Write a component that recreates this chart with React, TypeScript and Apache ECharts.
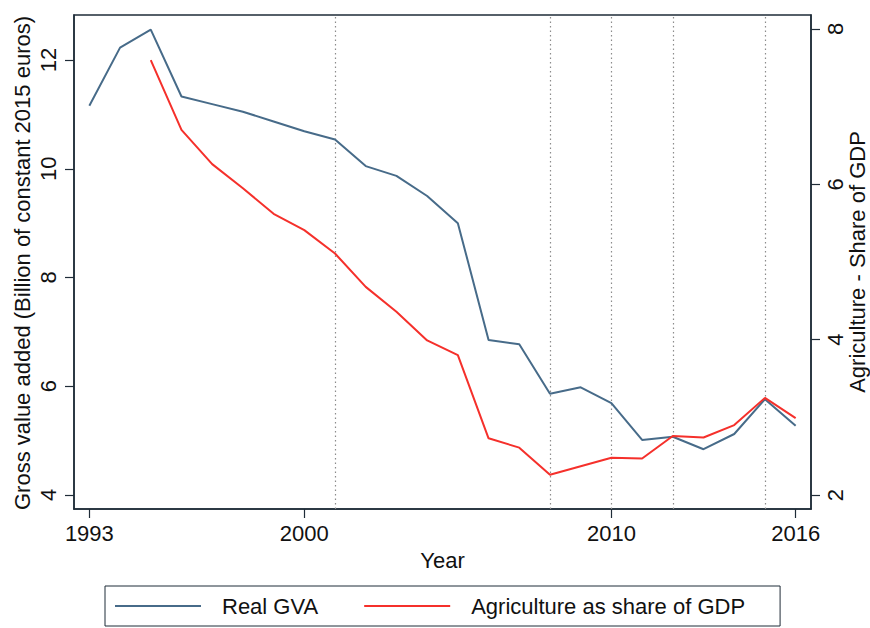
import React, { useEffect, useRef } from "react";
import * as echarts from "echarts";

const years = [1993, 1994, 1995, 1996, 1997, 1998, 1999, 2000, 2001, 2002, 2003, 2004, 2005, 2006, 2007, 2008, 2009, 2010, 2011, 2012, 2013, 2014, 2015, 2016];
const realGVA = [11.16, 12.23, 12.56, 11.33, 11.19, 11.05, 10.87, 10.69, 10.54, 10.05, 9.87, 9.5, 9.0, 6.85, 6.77, 5.86, 5.98, 5.69, 5.01, 5.07, 4.84, 5.12, 5.76, 5.27];
const agriYears = [1995, 1996, 1997, 1998, 1999, 2000, 2001, 2002, 2003, 2004, 2005, 2006, 2007, 2008, 2009, 2010, 2011, 2012, 2013, 2014, 2015, 2016];
const agriShare = [7.6, 6.7, 6.26, 5.95, 5.62, 5.41, 5.11, 4.68, 4.36, 3.99, 3.8, 2.73, 2.61, 2.26, 2.37, 2.48, 2.47, 2.76, 2.74, 2.9, 3.25, 2.99];
const xTicks = [1993, 2000, 2010, 2016];
const leftTicks = [4, 6, 8, 10, 12];
const rightTicks = [2, 4, 6, 8];
const eventYears = [2001, 2008, 2010, 2012, 2015];
const leftTitle = "Gross value added (Billion of constant 2015 euros)";
const rightTitle = "Agriculture - Share of GDP";

const FONT = "Liberation Sans, Arial, Helvetica, sans-serif";
const AXIS = "#1f2c38";
const TEXT = "#111111";
const BLUE = "#476b89";
const RED = "#f5302b";

export default function App() {
  const ref = useRef<HTMLDivElement>(null);
  useEffect(() => {
    if (!ref.current) return;
    const chart = echarts.init(ref.current, null, { renderer: "svg" });
    const axisCommon = {
      axisLine: { show: true, lineStyle: { color: AXIS, width: 1.5 } },
      axisTick: { show: true, length: 9, lineStyle: { color: AXIS, width: 1.2 } },
      splitLine: { show: false },
      nameTextStyle: { fontFamily: FONT, fontSize: 22, color: TEXT },
    };
    const titleStyle = {
      fontFamily: FONT,
      fontSize: 22,
      fill: TEXT,
      textAlign: "center",
      textVerticalAlign: "middle",
    };
    chart.setOption({
      animation: false,
      backgroundColor: "#ffffff",
      grid: {
        left: 74,
        top: 15,
        right: 59,
        bottom: 119,
        show: true,
        borderColor: AXIS,
        borderWidth: 1.5,
        containLabel: false,
        outerBoundsMode: "none",
      },
      graphic: [
        { type: "text", x: 22, y: 263, rotation: Math.PI / 2, style: { ...titleStyle, text: leftTitle } },
        { type: "text", x: 857, y: 262, rotation: Math.PI / 2, style: { ...titleStyle, text: rightTitle } },
      ],
      legend: {
        left: 105,
        top: 586,
        padding: [9, 35, 9, 10],
        borderColor: AXIS,
        borderWidth: 1,
        itemWidth: 86,
        itemHeight: 2,
        itemGap: 46,
        icon: "rect",
        textStyle: { fontFamily: FONT, fontSize: 22, color: TEXT, padding: [0, 0, 0, 16] },
        data: ["Real GVA", "Agriculture as share of GDP"],
      },
      xAxis: {
        type: "value",
        min: 1992.5,
        max: 2016.5,
        name: "Year",
        nameLocation: "middle",
        nameGap: 40,
        ...axisCommon,
        axisTick: { ...axisCommon.axisTick, customValues: xTicks },
        axisLabel: {
          customValues: xTicks,
          margin: 13,
          fontFamily: FONT,
          fontSize: 22,
          color: TEXT,
          formatter: (v: number) => String(v),
        },
      },
      yAxis: [
        {
          type: "value",
          position: "left",
          min: 3.74,
          max: 12.83,
          ...axisCommon,
          axisTick: { ...axisCommon.axisTick, customValues: leftTicks },
          axisLabel: {
            customValues: leftTicks,
            rotate: 90,
            margin: 15,
            fontFamily: FONT,
            fontSize: 22,
            color: TEXT,
          },
        },
        {
          type: "value",
          position: "right",
          min: 1.82,
          max: 8.18,
          ...axisCommon,
          axisTick: { ...axisCommon.axisTick, customValues: rightTicks },
          axisLabel: {
            customValues: rightTicks,
            rotate: 90,
            margin: 13,
            fontFamily: FONT,
            fontSize: 22,
            color: TEXT,
          },
        },
      ],
      series: [
        {
          name: "Real GVA",
          type: "line",
          yAxisIndex: 0,
          data: years.map((y, i) => [y, realGVA[i]]),
          showSymbol: false,
          symbol: "none",
          lineStyle: { color: BLUE, width: 2 },
          itemStyle: { color: BLUE },
          z: 3,
          markLine: {
            silent: true,
            symbol: "none",
            label: { show: false },
            lineStyle: { color: "#8c8c8c", width: 1.2, type: [1.5, 3] },
            data: eventYears.map((y) => ({ xAxis: y })),
            z: 1,
          },
        },
        {
          name: "Agriculture as share of GDP",
          type: "line",
          yAxisIndex: 1,
          data: agriYears.map((y, i) => [y, agriShare[i]]),
          showSymbol: false,
          symbol: "none",
          lineStyle: { color: RED, width: 2 },
          itemStyle: { color: RED },
          z: 4,
        },
      ],
    });
    return () => chart.dispose();
  }, []);
  return (
    <div
      ref={ref}
      style={{ width: 870, height: 628, position: "absolute", left: 0, top: 0 }}
    />
  );
}
